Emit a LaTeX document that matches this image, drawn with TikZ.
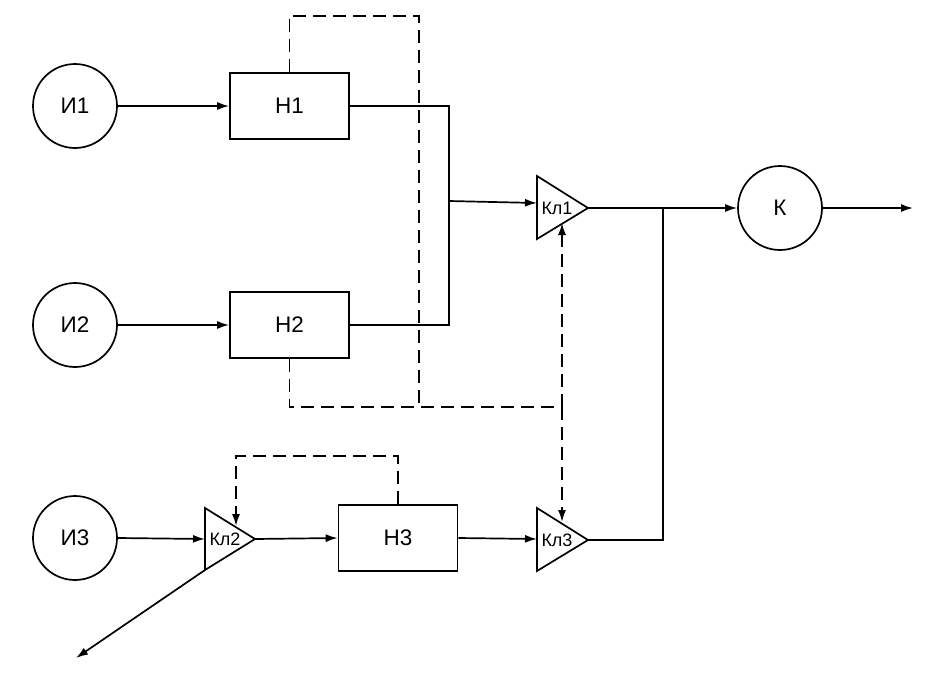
\documentclass[tikz,border=0pt]{standalone}
\usepackage{fontspec}
\setmainfont{Liberation Sans}
\usetikzlibrary{arrows.meta}
\begin{document}
\begin{tikzpicture}[x=1pt,y=-1pt,
  ln/.style={line width=1.7pt},
  arr/.style={ln,-{Latex[length=12pt,width=8pt]}},
  dsh/.style={ln,dash pattern=on 13pt off 7pt},
  darr/.style={dsh,-{Latex[length=12pt,width=8pt]}},
  src/.style={circle,draw,line width=1.7pt,minimum size=84pt,inner sep=0pt,font=\fontsize{22.5}{26}\selectfont},
  blk/.style={rectangle,draw,line width=1.7pt,minimum width=119pt,minimum height=66pt,inner sep=0pt,font=\fontsize{22.5}{26}\selectfont},
  kl/.style={inner sep=0pt,font=\fontsize{18}{21}\selectfont},
  tri/.style={draw,line width=1.7pt,line join=miter}
]
\useasboundingbox (0,0) rectangle (938,683);

% sources
\node[src] (i1) at (75,106) {И1};
\node[src] (i2) at (75,325) {И2};
\node[src] (i3) at (75,538) {И3};
\node[src] (k)  at (780,208) {К};

% blocks
\node[blk] (n1) at (289.5,106) {Н1};
\node[blk] (n2) at (289.5,325) {Н2};
\node[blk] (n3) at (398,538) {Н3};

% triangle Kl1
\coordinate (k1a) at (537,176);
\coordinate (k1b) at (537,239);
\coordinate (k1t) at (588,208);
\coordinate (k1in) at (537,203);
\coordinate (k1d) at (562,223);
\draw[tri] (k1a) -- (k1t) -- (k1b) -- cycle;
\node[kl] (k1) at (557,208) {Кл1};

% triangle Kl2
\coordinate (k2a) at (205,508);
\coordinate (k2b) at (205,570);
\coordinate (k2t) at (255,539);
\coordinate (k2in) at (205,539);
\coordinate (k2d) at (236,526);
\draw[tri] (k2a) -- (k2t) -- (k2b) -- cycle;
\node[kl] (k2) at (225,539) {Кл2};

% triangle Kl3
\coordinate (k3a) at (537,508);
\coordinate (k3b) at (537,571);
\coordinate (k3t) at (588,540);
\coordinate (k3in) at (537,539);
\coordinate (k3d) at (562,522);
\draw[tri] (k3a) -- (k3t) -- (k3b) -- cycle;
\node[kl] (k3) at (557,540) {Кл3};

% helper coordinates
\coordinate (j1) at (449,201);
\coordinate (j2) at (663,208);
\coordinate (j3) at (663,540);
\coordinate (out) at (913,208);
\coordinate (lost) at (76,658);
\coordinate (d1a) at (289.5,16);
\coordinate (d1b) at (419,16);
\coordinate (d1c) at (419,407);
\coordinate (d2a) at (289.5,407);
\coordinate (d2b) at (562,407);
\coordinate (d3a) at (398,456);
\coordinate (d3b) at (236,456);

% solid connectors
\draw[arr] (i1) -- (n1);
\draw[arr] (i2) -- (n2);
\draw[arr] (i3.east) -- (k2in);
\draw[ln] (n1.east) -| (j1);
\draw[ln] (n2.east) -| (j1);
\draw[arr] (j1) -- (k1in);
\draw[arr] (k1t) -- (k.west);
\draw[ln] (k3t) -- (j3) -- (j2);
\draw[arr] (k.east) -- (out);
\draw[arr] (k2t) -- (n3.west);
\draw[arr] (n3.east) -- (k3in);
\draw[arr] (k2b) -- (lost);

% dashed connectors
\draw[dsh] (n1.north) -- (d1a) -- (d1b) -- (d1c);
\draw[dsh] (n2.south) -- (d2a) -- (d2b);
\draw[darr] (d2b) -- (k1d);
\draw[darr] (d2b) -- (k3d);
\draw[darr] (n3.north) -- (d3a) -- (d3b) -- (k2d);
\end{tikzpicture}
\end{document}
